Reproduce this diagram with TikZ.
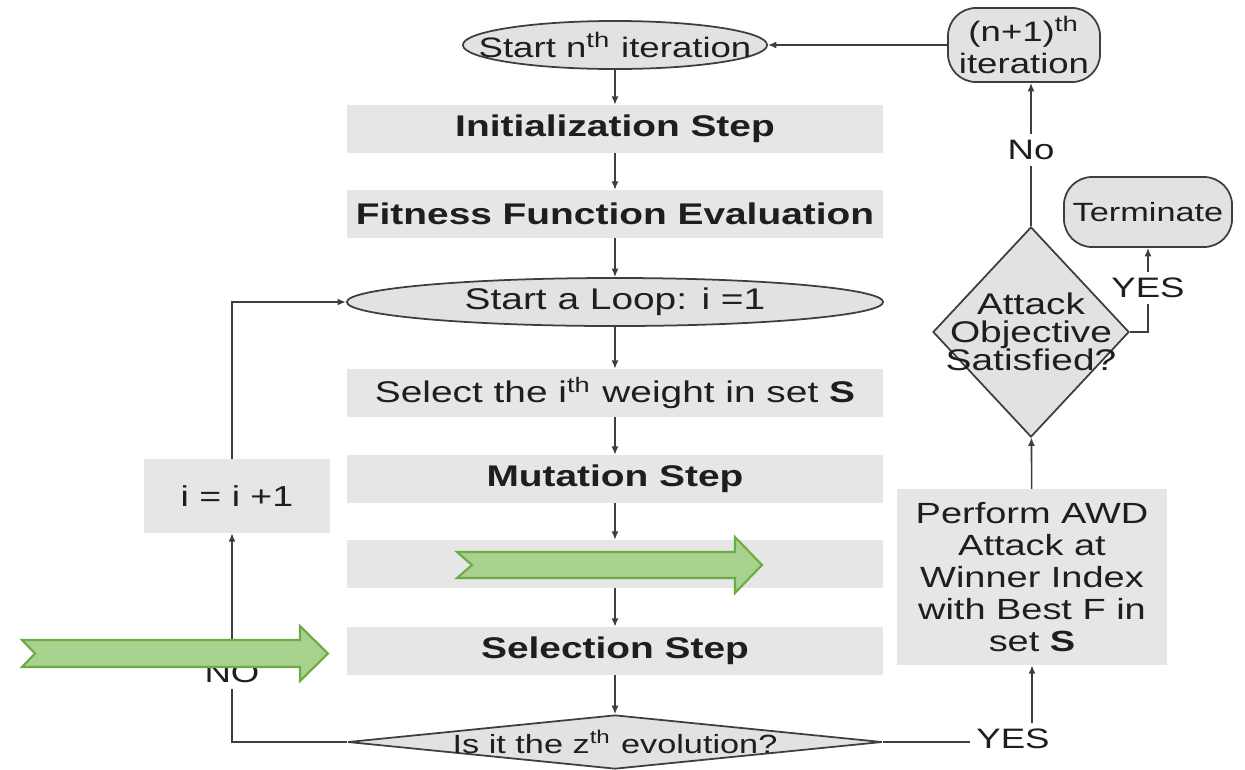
\documentclass[tikz,border=0pt]{standalone}
\usepackage{fontspec}
\setmainfont{Liberation Sans}[FakeStretch=1.3]
\usetikzlibrary{arrows.meta,shapes.geometric}
\definecolor{boxgray}{RGB}{230,230,230}
\definecolor{ovalgray}{RGB}{226,226,226}
\definecolor{inkgray}{RGB}{62,62,62}
\definecolor{textdark}{RGB}{30,30,30}
\definecolor{leafgreen}{RGB}{169,209,142}
\definecolor{leafedge}{RGB}{108,172,68}
\newcommand{\supth}{\textsuperscript{th}}
\newcommand{\fsz}[2]{\fontsize{#1}{#2}\selectfont}

\tikzset{
  stepbox/.style={fill=boxgray, inner sep=0pt, minimum width=5.36cm, minimum height=0.47cm, text=textdark},
  oval/.style={ellipse, draw=inkgray, line width=0.5pt, fill=ovalgray, inner sep=0pt, text=textdark},
  decision/.style={diamond, draw=inkgray, line width=0.5pt, fill=ovalgray, inner sep=0pt, text=textdark},
  endbox/.style={rectangle, rounded corners=8pt, draw=inkgray, line width=0.5pt, fill=ovalgray, align=center, inner sep=0pt, text=textdark},
  tag/.style={inner sep=1.5pt, text=textdark, font=\fsz{8}{9}},
  conn/.style={draw=inkgray, line width=0.45pt},
  arrow/.style={conn, -{Latex[length=2.4pt,width=2pt]}},
  leaf/.style={fill=leafgreen, draw=leafedge, line width=0.6pt, line join=miter}
}

\begin{document}
\begin{tikzpicture}[x=0.01cm,y=-0.01cm]
\useasboundingbox (0,0) rectangle (1245,769);

% main column
\node[oval, minimum width=3.04cm, minimum height=0.48cm,
  label={[font=\fsz{8}{9}, text=textdark]center:Start n\supth\ iteration}] (startn) at (615,45) {};
\node[stepbox, font=\fsz{8.5}{10}\bfseries] (init) at (615,129) {Initialization Step};
\node[stepbox, font=\fsz{8.5}{10}\bfseries] (fit) at (615,214) {Fitness Function Evaluation};
\node[oval, minimum width=5.36cm, minimum height=0.48cm,
  label={[font=\fsz{8.5}{10}, text=textdark]center:Start a Loop: i =1}] (loop) at (615,302) {};
\node[stepbox, font=\fsz{8.5}{10}] (pick) at (615,393) {Select the i\supth\ weight in set \textbf{S}};
\node[stepbox, font=\fsz{8.5}{10}\bfseries] (mut) at (615,479) {Mutation Step};
\node[stepbox] (blank) at (615,564) {};
\node[stepbox, font=\fsz{8.5}{10}\bfseries] (sel) at (615,651) {Selection Step};
\node[decision, minimum width=5.34cm, minimum height=0.54cm,
  label={[font=\fsz{7.5}{9}, text=textdark]center:Is it the z\supth\ evolution?}] (zq) at (615,742) {};

\foreach \a/\b in {startn/init, init/fit, fit/loop, loop/pick, pick/mut, mut/blank, blank/sel, sel/zq}
  \draw[arrow] (\a) -- (\b);

% loop back
\node[stepbox, minimum width=1.85cm, minimum height=0.73cm, font=\fsz{8.2}{10}] (inc) at (237,496) {i = i +1};
\node[tag] (no) at (232,673) {NO};
\draw[conn] (zq.west) -| (no.south);
\draw[arrow] (no.north) -- (no.north |- inc.south);
\draw[arrow] (no.north |- inc.north) |- (loop.west);

% right column
\node[tag] (yes) at (1013,739) {YES};
\draw[conn] (zq.east) -- (zq.east -| yes.west);
\node[stepbox, minimum width=2.7cm, minimum height=1.75cm, align=center, font=\fsz{8.3}{9.1}] (perf) at (1032,577)
  {Perform AWD\\Attack at\\Winner Index\\with Best F in\\set \textbf{S}};
\draw[arrow] (yes.north -| perf.south) -- (perf.south);
\node[decision, minimum width=1.96cm, minimum height=2.1cm,
  label={[font=\fsz{8.5}{8}, text=textdark, align=center]center:Attack\\Objective\\Satisfied?}] (att) at (1031,332) {};
\draw[arrow] (perf) -- (att);
\node[tag] (no2) at (1031,150) {No};
\draw[conn] (att.north) -- (no2.south);
\node[endbox, minimum width=1.52cm, minimum height=0.74cm, font=\fsz{8}{9}] (nplus) at (1024,45) {(n+1)\supth\\iteration};
\draw[arrow] (no2.north) -- (no2.north |- nplus.south);
\draw[arrow] (nplus.west) -- (startn.east);
\node[endbox, minimum width=1.68cm, minimum height=0.7cm, font=\fsz{7.5}{9}] (term) at (1148,212) {Terminate};
\node[tag] (yes2) at (1148,288) {YES};
\draw[conn] (att.east) -| (yes2.south);
\draw[arrow] (yes2.north) -- (term.south);

% green arrows on top
\filldraw[leaf] (22,640) -- (300,640) -- (300,626) -- (328,653.5) -- (300,681) -- (300,667) -- (22,667) -- (35,653.5) -- cycle;
\filldraw[leaf] (457,552) -- (735,552) -- (735,537) -- (762,565) -- (735,593) -- (735,578) -- (457,578) -- (472,565) -- cycle;
\end{tikzpicture}
\end{document}
